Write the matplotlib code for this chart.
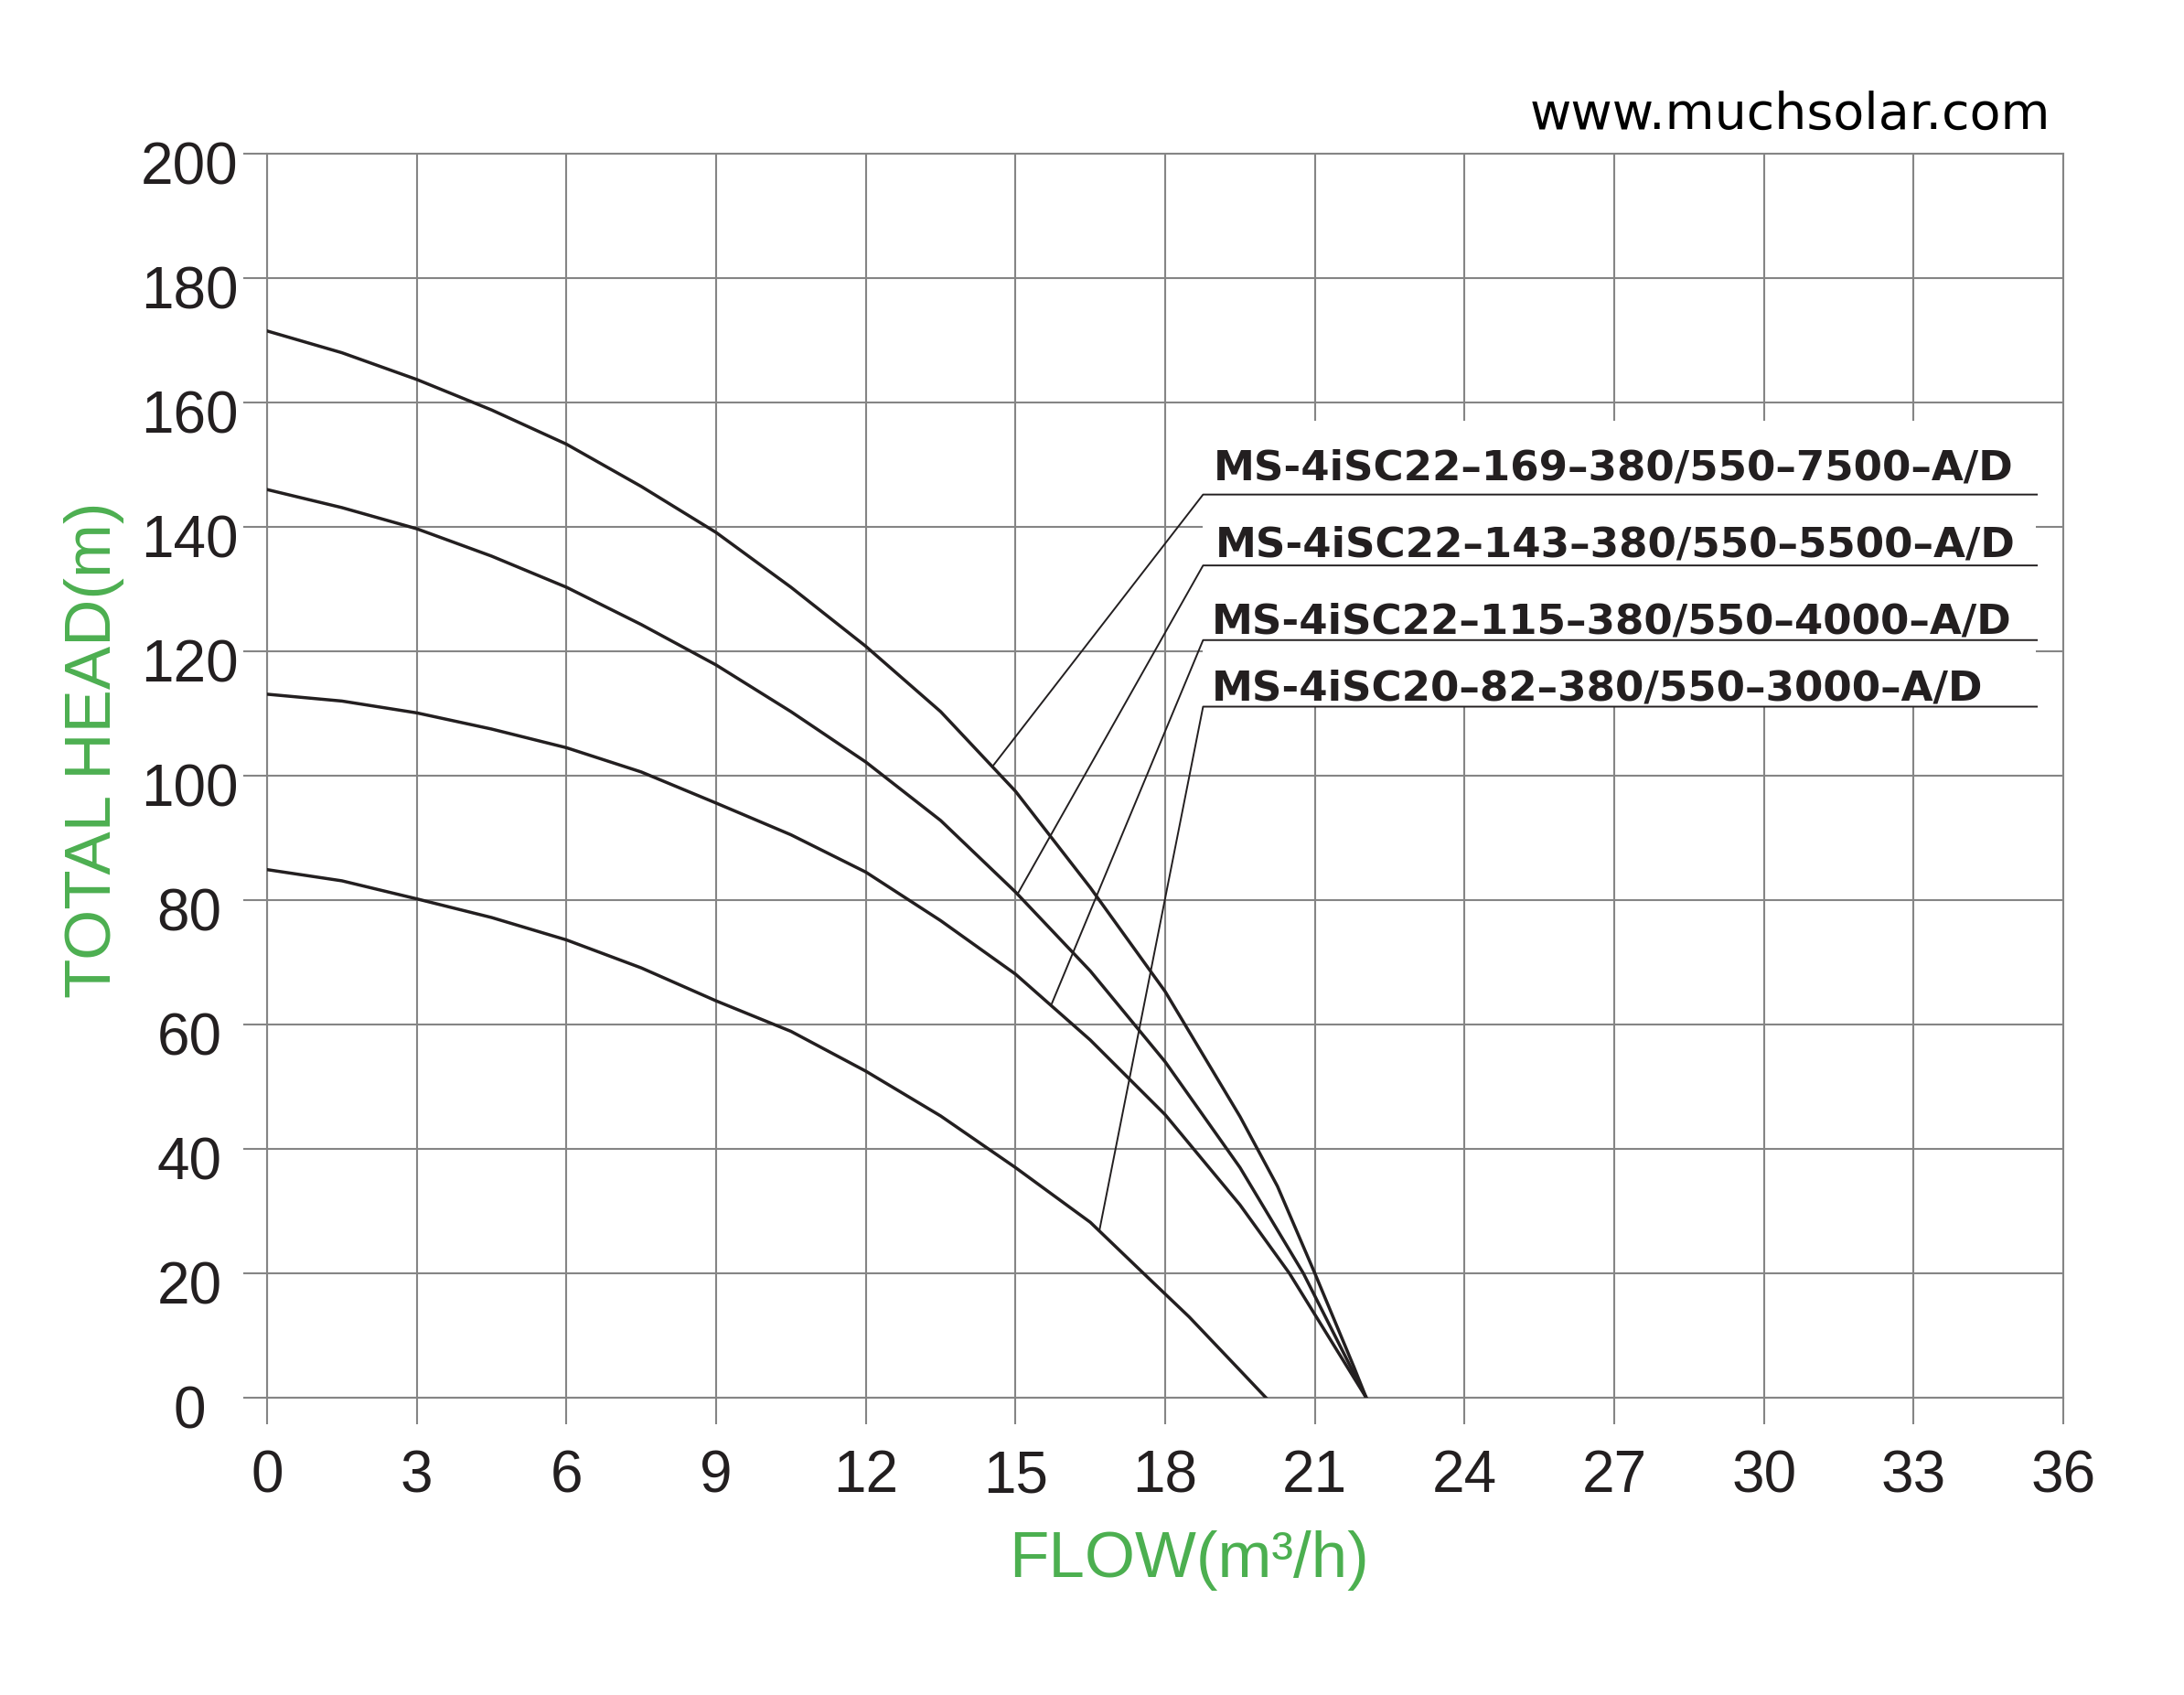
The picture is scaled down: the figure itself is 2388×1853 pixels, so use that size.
import matplotlib
matplotlib.use("Agg")
import matplotlib.pyplot as plt
from matplotlib.patches import Rectangle
from matplotlib.transforms import offset_copy

# pump curves (flow m3/h, head m)
flow_7500 = [0, 1.5, 3, 4.5, 6, 7.5, 9, 10.5, 12, 13.5, 15, 16.5, 18, 19.5, 20.25, 21, 21.78, 22.03]
head_7500 = [171.5, 168.0, 163.7, 158.8, 153.3, 146.5, 139.1, 130.3, 120.8, 110.3, 97.5, 82.0, 65.3, 45.2, 34.0, 20, 5, 0]

flow_5500 = [0, 1.5, 3, 4.5, 6, 7.5, 9, 10.5, 12, 13.5, 15, 16.5, 18, 19.5, 20.77, 22.03]
head_5500 = [146.0, 143.1, 139.7, 135.3, 130.3, 124.3, 117.8, 110.3, 102.2, 92.8, 81.3, 68.6, 54.0, 37.0, 20, 0]

flow_4000 = [0, 1.5, 3, 4.5, 6, 7.5, 9, 10.5, 12, 13.5, 15, 16.5, 18, 19.5, 20.49, 22.03]
head_4000 = [113.1, 112.0, 110.1, 107.5, 104.5, 100.6, 95.6, 90.5, 84.5, 76.7, 68.1, 57.5, 45.5, 31.0, 20, 0]

flow_3000 = [0, 1.5, 3, 4.5, 6, 7.5, 9, 10.5, 12, 13.5, 15, 16.5, 17.5, 18.48, 19.5, 20.02]
head_3000 = [84.9, 83.1, 80.2, 77.2, 73.6, 69.1, 63.8, 58.9, 52.5, 45.3, 37.0, 28.2, 20.5, 13.0, 4.4, 0]

model_names = [
    "MS-4iSC22\u2013169\u2013380/550\u20137500\u2013A/D",
    "MS-4iSC22\u2013143\u2013380/550\u20135500\u2013A/D",
    "MS-4iSC22\u2013115\u2013380/550\u20134000\u2013A/D",
    "MS-4iSC20\u201382\u2013380/550\u20133000\u2013A/D",
]
label_x = [18.97, 19.01, 18.93, 18.93]
label_baseline = [147.6, 135.2, 122.8, 112.1]
underline_y = [145.2, 133.8, 121.8, 111.1]
leader_end_x = [14.56, 15.05, 15.73, 16.68]
leader_end_y = [101.7, 81.1, 63.4, 26.8]

x_ticks = list(range(0, 37, 3))
y_ticks = list(range(0, 201, 20))

GRID = "#858585"
INK = "#231f20"
GREEN = "#4caf50"

fig = plt.figure(figsize=(23.88, 18.53), dpi=100)
W, H = 2388, 1853
ax = fig.add_axes([292 / W, 1 - 1528 / H, (2256 - 292) / W, 1360 / H])
ax.set_xlim(0, 36)
ax.set_ylim(0, 200)
ax.set_xticks(x_ticks)
ax.set_yticks(y_ticks)
ax.set_xticklabels([])
ax.set_yticklabels([])
ax.set_axisbelow(True)
ax.grid(True, color=GRID, linewidth=1.5)
for s in ax.spines.values():
    s.set_color(GRID)
    s.set_linewidth(1.5)
ax.tick_params(axis="x", direction="out", length=21, width=1.5, color=GRID)
ax.tick_params(axis="y", direction="out", length=18.7, width=1.5, color=GRID)

# tick labels (y ones are centred in the reference)
ytrans = offset_copy(ax.get_yaxis_transform(), fig=fig, x=-85, y=-17, units="dots")
for v in y_ticks:
    ax.text(0, v, str(v), transform=ytrans, ha="center", va="center",
            fontsize=46, family="Liberation Sans", color=INK, clip_on=False)
xtrans = offset_copy(ax.get_xaxis_transform(), fig=fig, x=0, y=-86, units="dots")
for v in x_ticks:
    ax.text(v, 0, str(v), transform=xtrans, ha="center", va="center",
            fontsize=46, family="Liberation Sans", color=INK, clip_on=False)

# white panel behind the model labels
ax.add_patch(Rectangle((18.76, 111.1), 35.45 - 18.76, 157.0 - 111.1,
                       facecolor="white", edgecolor="none", zorder=1))

curves = [(flow_7500, head_7500), (flow_5500, head_5500),
          (flow_4000, head_4000), (flow_3000, head_3000)]
for fx, hy in curves:
    ax.plot(fx, hy, color=INK, linewidth=2.5, solid_joinstyle="round", zorder=3)

for name, lx, lb, uy, ex, ey in zip(model_names, label_x, label_baseline,
                                     underline_y, leader_end_x, leader_end_y):
    ax.plot([ex, 18.76, 35.47], [ey, uy, uy], color=INK, linewidth=1.4, zorder=3)
    ax.text(lx, lb, name, ha="left", va="baseline", fontsize=32.5,
            fontweight="bold", family="DejaVu Sans", color=INK, zorder=4)

fig.text(2242 / W, 1 - 141 / H, "www.muchsolar.com", ha="right", va="baseline",
         fontsize=40, family="DejaVu Sans", color="black")
fig.text(103 / W, 1 - 820 / H, "TOTAL HEAD(m)", rotation=90, ha="center", va="center",
         fontsize=51, family="Liberation Sans", color=GREEN)
fig.text(1300 / W, 1 - 1706 / H, "FLOW(m\u00b3/h)", ha="center", va="center",
         fontsize=51, family="Liberation Sans", color=GREEN)

fig.savefig("out.png", dpi=100, facecolor="white")
